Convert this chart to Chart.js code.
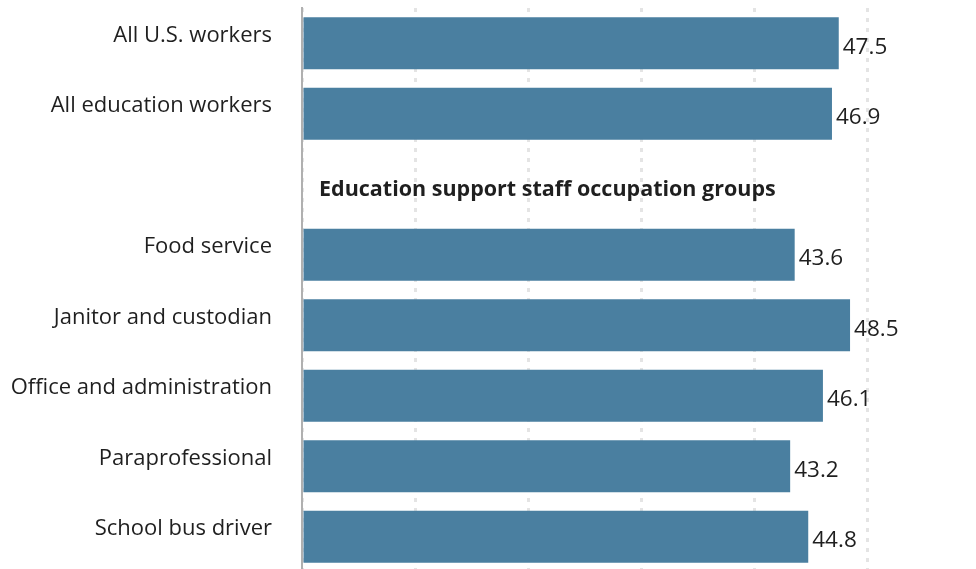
<!DOCTYPE html>
<html>
<head>
<meta charset="utf-8">
<script src="https://cdn.jsdelivr.net/npm/chart.js@4"></script>
<style>
  html, body { margin: 0; padding: 0; background: #fff; overflow: hidden; }
  #wrap { position: relative; width: 980px; height: 572px; }
</style>
</head>
<body>
<div id="wrap"><canvas id="hoursChart"></canvas></div>
<script>
// Average weekly hours worked, by group
const categories = [
    'All U.S. workers',
    'All education workers',
    '',
    'Food service',
    'Janitor and custodian',
    'Office and administration',
    'Paraprofessional',
    'School bus driver'
];
const hours = [47.5, 46.9, null, 43.6, 48.5, 46.1, 43.2, 44.8];
const groupHeading = 'Education support staff occupation groups';
const headingRow = 2;

const fontFamily = '"Open Sans", Lato, sans-serif';
const textColor = '#1f1f1f';

// Draws the value at the end of each bar and the group heading in the blank row
const barLabels = {
    id: 'barLabels',
    afterDatasetsDraw(chart) {
        const ctx = chart.ctx;
        const meta = chart.getDatasetMeta(0);
        ctx.save();
        ctx.fillStyle = textColor;
        ctx.font = '22.5px ' + fontFamily;
        ctx.textAlign = 'left';
        ctx.textBaseline = 'middle';
        meta.data.forEach((bar, i) => {
            if (hours[i] === null) return;
            ctx.fillText(hours[i].toFixed(1), bar.x + 4, bar.y + 4);
        });

        const yScale = chart.scales.y;
        ctx.font = 'bold 21.5px ' + fontFamily;
        ctx.fillText(groupHeading, chart.chartArea.left + 17, yScale.getPixelForValue(headingRow) + 6);
        ctx.restore();
    }
};

const ctx = document.getElementById('hoursChart').getContext('2d');
new Chart(ctx, {
    type: 'bar',
    data: {
        labels: categories,
        datasets: [{
            data: hours,
            backgroundColor: '#4a7fa0',
            borderWidth: 0,
            barPercentage: 0.737,
            categoryPercentage: 1
        }]
    },
    options: {
        indexAxis: 'y',
        responsive: true,
        maintainAspectRatio: false,
        animation: false,
        layout: { padding: { top: 8, right: 0, bottom: 0, left: 0 } },
        plugins: {
            legend: { display: false },
            tooltip: { enabled: false }
        },
        scales: {
            x: {
                min: 0,
                max: 60,
                ticks: { display: false, stepSize: 10 },
                grid: {
                    color: '#e4e4e4',
                    lineWidth: 3,
                    drawTicks: false
                },
                border: { display: false, dash: [4, 6] },
                afterFit(scale) {
                    scale.height = 0;
                    scale.paddingLeft = 0;
                    scale.paddingRight = 0;
                }
            },
            y: {
                grid: { display: false, drawTicks: false },
                border: { display: true, color: '#b0b0b0', width: 2 },
                ticks: {
                    color: textColor,
                    font: { family: fontFamily, size: 22 },
                    padding: 30,
                    labelOffset: -8
                },
                afterFit(scale) {
                    scale.width = 302;
                    scale.paddingTop = 0;
                    scale.paddingBottom = 0;
                }
            }
        }
    },
    plugins: [barLabels]
});
</script>
</body>
</html>
